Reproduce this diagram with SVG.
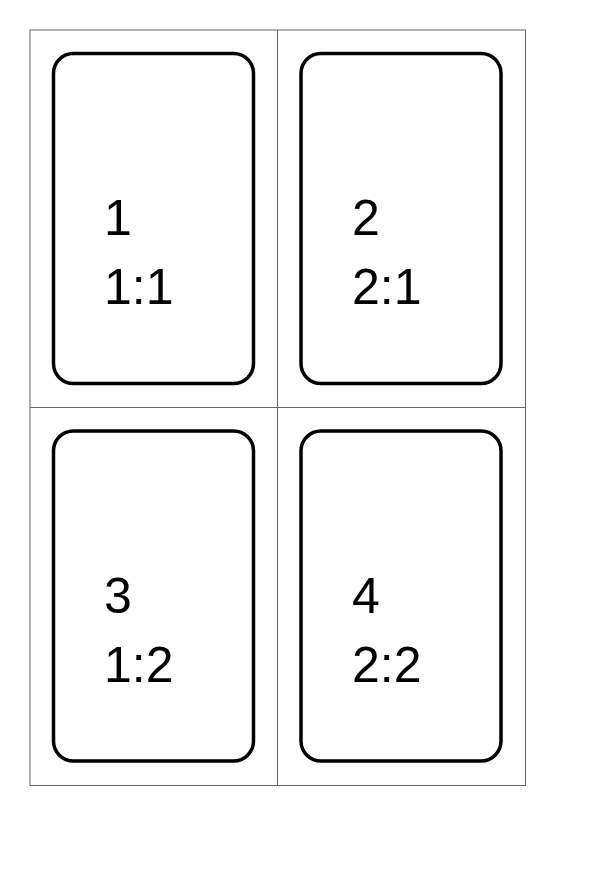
<svg xmlns="http://www.w3.org/2000/svg" width="613" height="875" viewBox="0 0 613 875">
<style>
.grid{stroke:#666;stroke-width:1;fill:none}
.card{fill:#fff;stroke:#000;stroke-width:3.5}
.lbl{font-family:"Liberation Sans",Arial,sans-serif;font-size:50px;fill:#000}
</style>
<rect width="613" height="875" fill="#fff"/>
<g id="connectors">
<rect class="grid" x="30" y="30" width="495.5" height="755.5"/>
<line class="grid" x1="277.5" y1="30" x2="277.5" y2="785.5"/>
<line class="grid" x1="30" y1="407.5" x2="525.5" y2="407.5"/>
</g>
<g id="card1">
<rect class="card" x="53.5" y="53.5" width="200" height="330" rx="20" ry="20"/>
<text class="lbl" x="104" y="235">1</text>
<text class="lbl" x="104" y="304">1:1</text>
</g>
<g id="card2">
<rect class="card" x="301" y="53.5" width="200" height="330" rx="20" ry="20"/>
<text class="lbl" x="352" y="235">2</text>
<text class="lbl" x="352" y="304">2:1</text>
</g>
<g id="card3">
<rect class="card" x="53.5" y="431" width="200" height="330" rx="20" ry="20"/>
<text class="lbl" x="104" y="613">3</text>
<text class="lbl" x="104" y="682">1:2</text>
</g>
<g id="card4">
<rect class="card" x="301" y="431" width="200" height="330" rx="20" ry="20"/>
<text class="lbl" x="352" y="613">4</text>
<text class="lbl" x="352" y="682">2:2</text>
</g>
</svg>
